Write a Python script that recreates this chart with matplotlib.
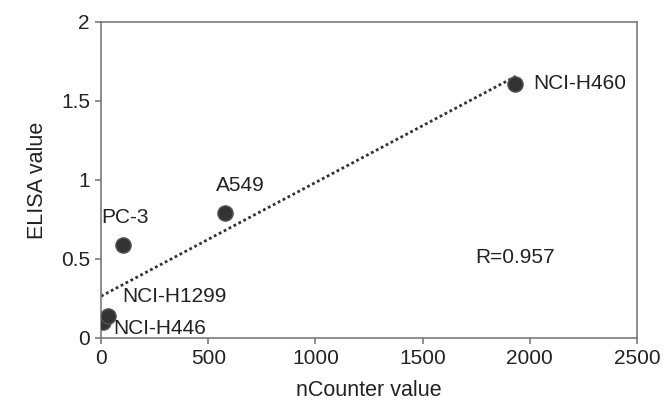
import numpy as np
import matplotlib
matplotlib.use("Agg")
import matplotlib.pyplot as plt

# Datos
lineas   = ["NCI-H446", "NCI-H1299", "PC-3", "A549", "NCI-H460"]
ncounter = np.array([10, 33, 103, 580, 1930])
elisa    = np.array([0.10, 0.14, 0.59, 0.79, 1.61])
# desplazamiento de cada etiqueta (px)
offsets  = [(10, -6), (14, 19), (-22, 27), (-9, 28), (18, 0)]

C_TEXT  = "#222222"
C_SPINE = "#7a7a7a"
C_PUNTO = "#333333"

plt.rcParams["font.family"] = ["Liberation Sans", "DejaVu Sans"]

fig = plt.figure(figsize=(6.65, 4.07), dpi=100, facecolor="white")
ax = fig.add_axes([0.152, 0.170, 0.806, 0.776])

# recta de ajuste
m, b = np.polyfit(ncounter, elisa, 1)
xx = np.linspace(0, ncounter.max() + 10, 50)
ax.plot(xx, m * xx + b, color="#333333", linewidth=2.0,
        linestyle=(0, (1, 1)), zorder=2)

ax.scatter(ncounter, elisa, s=120, color=C_PUNTO, edgecolor="#555555",
           linewidth=1.0, zorder=3)

for nombre, x, y, (dx, dy) in zip(lineas, ncounter, elisa, offsets):
    ax.annotate(nombre, (x, y), xytext=(dx * 0.72, dy * 0.72),
                textcoords="offset points", ha="left", va="center",
                fontsize=15, color=C_TEXT, zorder=4)

ax.text(1744, 0.506, "R=0.957", ha="left", va="center",
        fontsize=15, color=C_TEXT)

ax.set_xlim(0, 2500)
ax.set_ylim(0, 2)
ax.set_xticks([0, 500, 1000, 1500, 2000, 2500])
ax.set_yticks([0, 0.5, 1, 1.5, 2])
ax.set_yticklabels(["0", "0.5", "1", "1.5", "2"])

for sp in ax.spines.values():
    sp.set_color(C_SPINE)
    sp.set_linewidth(1.2)
ax.tick_params(direction="out", length=4, width=1.2, color=C_SPINE,
               labelcolor=C_TEXT, labelsize=15, pad=4)

ax.set_xlabel("nCounter value", fontsize=15.5, color=C_TEXT, labelpad=9)
ax.set_ylabel("ELISA value", fontsize=15.5, color=C_TEXT, labelpad=9)

fig.savefig("out.png", dpi=100, facecolor="white")
